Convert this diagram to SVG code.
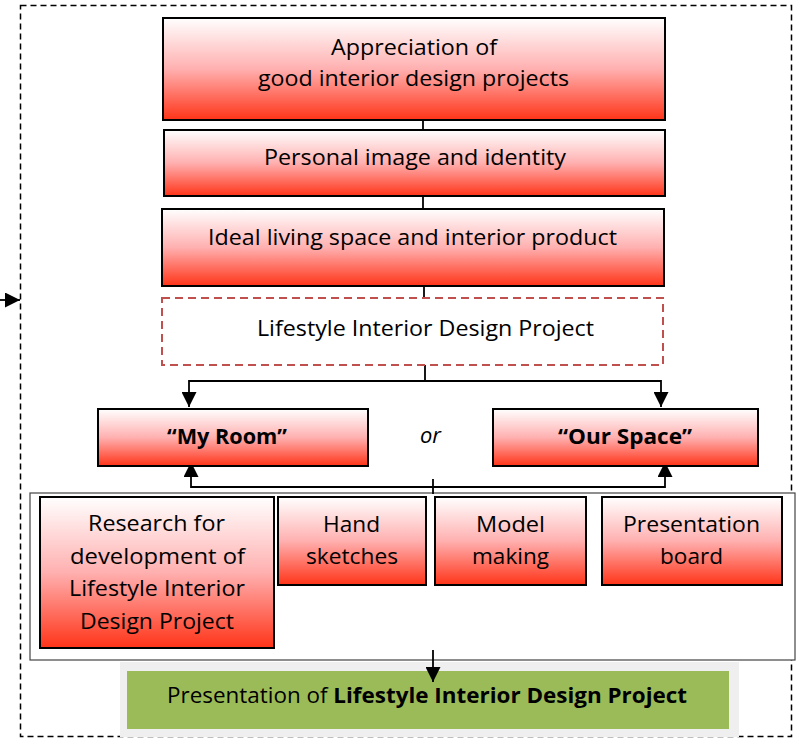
<svg xmlns="http://www.w3.org/2000/svg" width="798" height="739" viewBox="0 0 798 739">
<style>
.box{stroke:#000;stroke-width:2;fill:url(#red)}
.t{font-family:"Open Sans","Liberation Sans",sans-serif;font-size:21.5px;fill:#000;text-anchor:middle}
.b{font-weight:bold}
.ln{stroke:#000;stroke-width:1.8;fill:none}
</style>
<defs>
<linearGradient id="red" x1="0" y1="0" x2="0" y2="1">
<stop offset="0" stop-color="#ffffff"/>
<stop offset="0.5" stop-color="#ffb0b0"/>
<stop offset="1" stop-color="#ff3418"/>
</linearGradient>
<marker id="ah" viewBox="0 0 10 10" refX="10" refY="5" markerWidth="15" markerHeight="15" markerUnits="userSpaceOnUse" orient="auto">
<path d="M0,0 L10,5 L0,10 z" fill="#000"/>
</marker>
</defs>
<rect width="798" height="739" fill="#fff"/>
<g id="frame">
<rect x="20.5" y="5.5" width="771" height="731" fill="none" stroke="#000" stroke-width="1.5" stroke-dasharray="6,4"/>
</g>
<g id="container">
<rect x="30" y="493" width="765" height="167" fill="#fff" stroke="#444" stroke-width="1.2"/>
</g>
<g id="connectors">
<line class="ln" x1="423" y1="120" x2="423" y2="130"/>
<line class="ln" x1="423" y1="196" x2="423" y2="209"/>
<line class="ln" x1="424" y1="286" x2="424" y2="298"/>
<polyline class="ln" points="425,365 425,381 189,381 189,407" marker-end="url(#ah)"/>
<polyline class="ln" points="425,381 661,381 661,407" marker-end="url(#ah)"/>
<polyline class="ln" points="433,479 433,494"/>
<polyline class="ln" points="433,487 191,487 191,462" marker-end="url(#ah)"/>
<polyline class="ln" points="433,487 665,487 665,462" marker-end="url(#ah)"/>
<line class="ln" x1="0" y1="300" x2="20" y2="300" marker-end="url(#ah)"/>
</g>
<g id="n1">
<rect class="box" x="163" y="18" width="502" height="102"/>
<text class="t" x="414" y="55" textLength="166" lengthAdjust="spacingAndGlyphs">Appreciation of</text>
<text class="t" x="413.5" y="86" textLength="311" lengthAdjust="spacingAndGlyphs">good interior design projects</text>
</g>
<g id="n2">
<rect class="box" x="164" y="130" width="501" height="66"/>
<text class="t" x="415" y="165" textLength="302" lengthAdjust="spacingAndGlyphs">Personal image and identity</text>
</g>
<g id="n3">
<rect class="box" x="162" y="209" width="502" height="77"/>
<text class="t" x="412.5" y="245" textLength="409" lengthAdjust="spacingAndGlyphs">Ideal living space and interior product</text>
</g>
<g id="n4">
<rect x="162" y="298" width="501" height="67" fill="#fff" stroke="#c0504d" stroke-width="2" stroke-dasharray="8,5"/>
<text class="t" x="425.5" y="336" textLength="337" lengthAdjust="spacingAndGlyphs">Lifestyle Interior Design Project</text>
</g>
<g id="myroom">
<rect class="box" x="98" y="409" width="270" height="57"/>
<text class="t b" x="227" y="444" textLength="120" lengthAdjust="spacingAndGlyphs">“My Room”</text>
</g>
<text class="t" x="430.5" y="443" font-style="italic" textLength="21" lengthAdjust="spacingAndGlyphs">or</text>
<g id="ourspace">
<rect class="box" x="493" y="409" width="265" height="57"/>
<text class="t b" x="625" y="444" textLength="134" lengthAdjust="spacingAndGlyphs">“Our Space”</text>
</g>
<g id="research">
<rect class="box" x="40" y="497" width="234" height="151"/>
<text class="t" x="156.5" y="531" textLength="137" lengthAdjust="spacingAndGlyphs">Research for</text>
<text class="t" x="157.5" y="564" textLength="175" lengthAdjust="spacingAndGlyphs">development of</text>
<text class="t" x="157" y="596" textLength="176" lengthAdjust="spacingAndGlyphs">Lifestyle Interior</text>
<text class="t" x="157" y="629" textLength="154" lengthAdjust="spacingAndGlyphs">Design Project</text>
</g>
<g id="hand">
<rect class="box" x="278" y="497" width="148" height="88"/>
<text class="t" x="351.5" y="532" textLength="57" lengthAdjust="spacingAndGlyphs">Hand</text>
<text class="t" x="352" y="564" textLength="92" lengthAdjust="spacingAndGlyphs">sketches</text>
</g>
<g id="model">
<rect class="box" x="435" y="497" width="151" height="88"/>
<text class="t" x="510.5" y="532" textLength="69" lengthAdjust="spacingAndGlyphs">Model</text>
<text class="t" x="510.5" y="564" textLength="77" lengthAdjust="spacingAndGlyphs">making</text>
</g>
<g id="board">
<rect class="box" x="602" y="497" width="180" height="88"/>
<text class="t" x="691.5" y="532" textLength="137" lengthAdjust="spacingAndGlyphs">Presentation</text>
<text class="t" x="691.5" y="564" textLength="63" lengthAdjust="spacingAndGlyphs">board</text>
</g>
<g id="presentation">
<rect x="120" y="662" width="619" height="75" fill="#efefef"/>
<rect x="127" y="671" width="602" height="58" fill="#9bbb59"/>
<text class="t" x="427" y="703" textLength="520" lengthAdjust="spacingAndGlyphs">Presentation of <tspan class="b">Lifestyle Interior Design Project</tspan></text>
</g>
<line class="ln" x1="433" y1="650" x2="433" y2="682" marker-end="url(#ah)"/>
</svg>
